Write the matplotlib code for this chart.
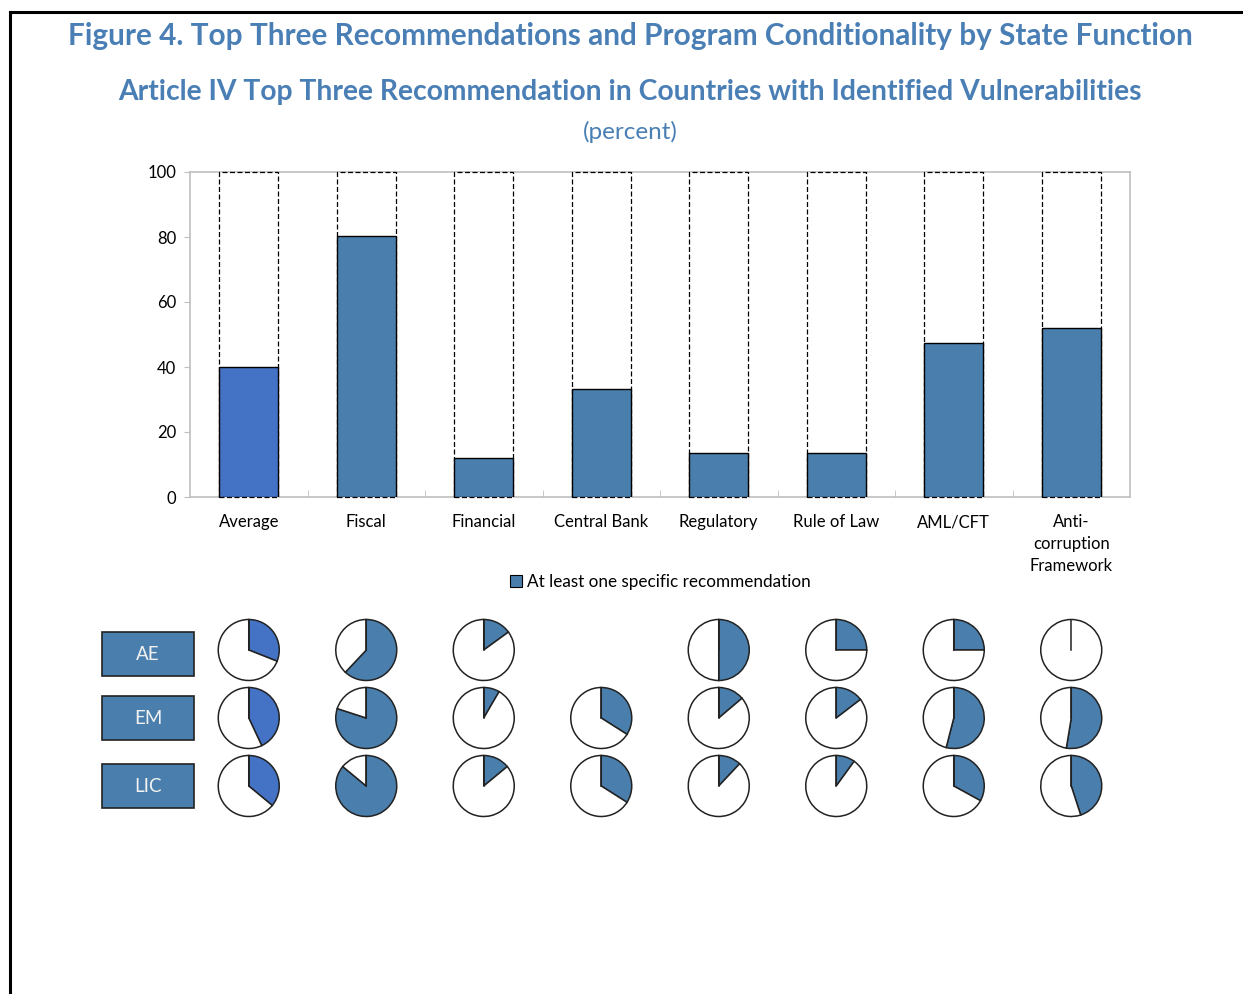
import matplotlib
matplotlib.use("Agg")
import matplotlib.pyplot as plt
from matplotlib.patches import Rectangle
from matplotlib.lines import Line2D
import numpy as np

plt.rcParams['font.family'] = ['Lato', 'DejaVu Sans']

# ---- data ----
categories = ["Average", "Fiscal", "Financial", "Central Bank", "Regulatory",
              "Rule of Law", "AML/CFT", "Anti-\ncorruption\nFramework"]
share_specific = [40.0, 80.3, 12.0, 33.2, 13.5, 13.5, 47.4, 52.0]

groups = ["AE", "EM", "LIC"]
pie_ae = [31, 62, 15, None, 50, 25, 25, 0]
pie_em = [43, 80, 8.4, 34, 13.8, 14.6, 54, 52.6]
pie_lic = [36, 86, 14, 34, 12, 10, 33, 45]
pie_rows = [pie_ae, pie_em, pie_lic]

# ---- styling ----
TITLE_BLUE = "#4A7FB5"
STEEL = "#4A7FAD"
ROYAL = "#4472C4"
W, H = 1243, 994

fig = plt.figure(figsize=(W / 100, H / 100), dpi=100)
fig.patch.set_facecolor("white")

# page frame (left and top rules)
fig.add_artist(Line2D([9.5 / W, 9.5 / W], [0, 1 - 12 / H], color="black", lw=2.2,
                      transform=fig.transFigure))
fig.add_artist(Line2D([9.5 / W, 1.0], [1 - 12 / H, 1 - 12 / H], color="black", lw=2.2,
                      transform=fig.transFigure))

fig.text(630 / W, 1 - 36 / H,
         "Figure 4. Top Three Recommendations and Program Conditionality by State Function",
         ha="center", va="center", fontsize=21.4, fontweight="bold", color=TITLE_BLUE)
fig.text(630 / W, 1 - 92 / H,
         "Article IV Top Three Recommendation in Countries with Identified Vulnerabilities",
         ha="center", va="center", fontsize=20.3, fontweight="bold", color=TITLE_BLUE)
fig.text(630 / W, 1 - 132 / H, "(percent)", ha="center", va="center",
         fontsize=17.5, color=TITLE_BLUE)

# ---- bar chart ----
ax_l, ax_r = 190 / W, 1130 / W
ax_b, ax_t = 1 - 497 / H, 1 - 172 / H
ax = fig.add_axes([ax_l, ax_b, ax_r - ax_l, ax_t - ax_b])
x = np.arange(len(categories))
width = 0.5
ax.bar(x, [100] * len(x), width, facecolor="white", edgecolor="black",
       linestyle=(0, (4, 2)), linewidth=0.9, zorder=3, clip_on=False)
bar_colors = [ROYAL] + [STEEL] * (len(x) - 1)
ax.bar(x, share_specific, width, color=bar_colors, edgecolor="black",
       linewidth=1.0, zorder=4)

ax.set_xlim(-0.5, len(x) - 0.5)
ax.set_ylim(0, 100)
ax.set_yticks(np.arange(0, 101, 20))
ax.set_xticks(x)
ax.set_xticklabels(categories, fontsize=12, linespacing=1.45)
ax.tick_params(axis="x", length=0, pad=12.5)
ax.tick_params(axis="y", length=4, color="#BFBFBF", labelsize=12, pad=6)
ax.set_xticks(np.arange(0.5, len(x) - 0.5, 1), minor=True)
ax.tick_params(axis="x", which="minor", direction="in", length=5, color="#BFBFBF")
for s in ax.spines.values():
    s.set_color("#BFBFBF")
    s.set_linewidth(1.2)
    s.set_zorder(1)

handle = Rectangle((0, 0), 1, 1, facecolor=STEEL, edgecolor="black", linewidth=0.8)
fig.legend([handle], ["At least one specific recommendation"],
           loc="center", bbox_to_anchor=(660 / W, 1 - 582 / H), frameon=False,
           fontsize=12.3, handlelength=0.7, handleheight=0.7, handletextpad=0.3)

# ---- pie grid ----
unit = (1130 - 190) / len(x)        # pixels per category
p_top, p_bot = 610, 826
pax = fig.add_axes([ax_l, 1 - p_bot / H, ax_r - ax_l, (p_bot - p_top) / H])
half_h = (p_bot - p_top) / 2 / unit
row_step = 68 / unit
radius = 30.5 / unit
row_y = [row_step, 0.0, -row_step]
box_shift = [-4 / unit, 0.0, 0.0]

for r, (vals, yc) in enumerate(zip(pie_rows, row_y)):
    for c, v in enumerate(vals):
        if v is None:
            continue
        fill = ROYAL if c == 0 else STEEL
        pax.pie([v, 100 - v], colors=[fill, "white"], startangle=90,
                counterclock=False, center=(c, yc), radius=radius, frame=True,
                wedgeprops=dict(edgecolor="#222222", linewidth=1.1))
        # radial edge at 12 o'clock (visible even for an empty share)
        pax.plot([c, c], [yc, yc + radius], color="#222222", lw=1.1, zorder=5)
    # group label box
    bw, bh = 92 / unit, 44 / unit
    bx = -0.5 - 88 / unit
    by = yc + box_shift[r]
    pax.add_patch(Rectangle((bx, by - bh / 2), bw, bh, facecolor=STEEL,
                            edgecolor="#222222", linewidth=1.2, clip_on=False))
    pax.text(bx + bw / 2, by, groups[r], ha="center", va="center",
             fontsize=13.5, color="#F2F2F2")

pax.set_xlim(-0.5, len(x) - 0.5)
pax.set_ylim(-half_h, half_h)
pax.set_aspect("auto")
pax.axis("off")

fig.savefig("out.png", dpi=100, facecolor="white")
